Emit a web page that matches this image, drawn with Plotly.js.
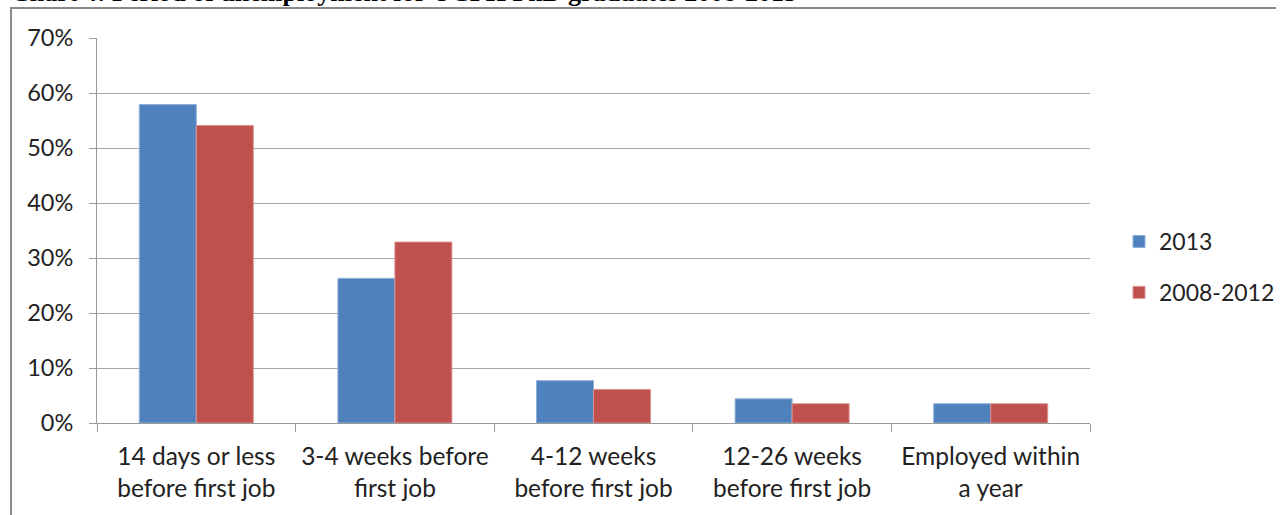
<!DOCTYPE html>
<html>
<head>
<meta charset="utf-8">
<script src="https://cdn.plot.ly/plotly-3.0.1.min.js"></script>
<style>
html,body{margin:0;padding:0;background:#fff;overflow:hidden;}
#chart{width:1285px;height:515px;}
</style>
</head>
<body>
<div id="chart"></div>
<script>
const categories = [
  "14 days or less<br>before first job",
  "3-4 weeks before<br>first job",
  "4-12 weeks<br>before first job",
  "12-26 weeks<br>before first job",
  "Employed within<br>a year"
];
const seriesNames = ["2013", "2008-2012"];
const values2013 = [0.579, 0.263, 0.077, 0.044, 0.035];
const values2008_2012 = [0.541, 0.329, 0.061, 0.035, 0.035];
const yTickVals = [0, 0.1, 0.2, 0.3, 0.4, 0.5, 0.6, 0.7];
const yTickText = ["0%", "10%", "20%", "30%", "40%", "50%", "60%", "70%"];
const titleText = "Chart 4: Period of unemployment for UCPH PhD graduates 2008-2013";

const FONT = "Lato, 'Open Sans', sans-serif";
const W = 1285, H = 515;
const mL = 97, mR = 195, mT = 38, mB = 92;
const plotH = H - mT - mB, plotW = W - mL - mR;
const px2py = p => (H - mB - p) / plotH;
const px2px = p => (p - mL) / plotW;

const data = [
  {type: 'bar', name: seriesNames[0], legendgroup: 'a', x: categories, y: values2013,
   marker: {color: '#4F81BD', line: {color: '#8FB0D8', width: 1}}},
  {type: 'bar', name: seriesNames[1], legendgroup: 'b', x: categories, y: values2008_2012,
   marker: {color: '#C0504D', line: {color: '#DA9391', width: 1}}}
];

const layout = {
  width: W, height: H,
  margin: {l: mL, r: mR, t: mT, b: mB, pad: 0, autoexpand: false},
  paper_bgcolor: '#fff', plot_bgcolor: '#fff',
  barmode: 'group', bargap: 0.426, bargroupgap: 0,
  showlegend: true,
  legend: {x: px2px(1119), xanchor: 'left', y: px2py(220), yanchor: 'top',
           font: {family: FONT, size: 23, color: '#222'},
           itemwidth: 30, tracegroupgap: 18, traceorder: 'grouped', bgcolor: 'rgba(0,0,0,0)'},
  xaxis: {
    type: 'category', showgrid: false, zeroline: false,
    showline: true, linecolor: '#9a9a9a', linewidth: 1,
    ticks: 'outside', tickson: 'boundaries', ticklen: 8, tickcolor: '#9a9a9a',
    ticklabelstandoff: 12,
    tickfont: {family: FONT, size: 24.5, color: '#222'}
  },
  yaxis: {
    range: [0, 0.7], tickvals: yTickVals, ticktext: yTickText,
    showgrid: true, gridcolor: '#a6a6a6', gridwidth: 1,
    zeroline: false, showline: true, linecolor: '#9a9a9a', linewidth: 1,
    ticks: 'outside', ticklen: 7, tickcolor: '#9a9a9a',
    ticklabelstandoff: 11,
    tickfont: {family: FONT, size: 23.5, color: '#222'}
  },
  shapes: [
    {type: 'line', xref: 'paper', yref: 'paper',
     x0: px2px(11), x1: px2px(11), y0: px2py(8), y1: px2py(520),
     line: {color: '#8a8a8a', width: 2}},
    {type: 'line', xref: 'paper', yref: 'paper',
     x0: px2px(10), x1: px2px(1276), y0: px2py(8), y1: px2py(8),
     line: {color: '#8a8a8a', width: 2}}
  ],
  annotations: [
    {text: '<b>' + titleText + '</b>', xref: 'paper', yref: 'paper',
     x: px2px(10), xanchor: 'left', y: px2py(8), yanchor: 'bottom',
     showarrow: false, borderpad: 0,
     font: {family: "'Liberation Serif', 'Times New Roman', serif", size: 26, color: '#000'}}
  ]
};

Plotly.newPlot('chart', data, layout, {displayModeBar: false, staticPlot: true});
</script>
</body>
</html>
